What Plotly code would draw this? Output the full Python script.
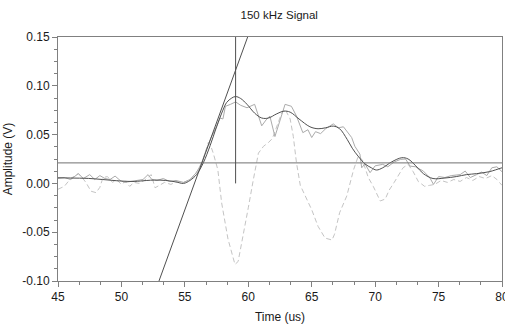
import plotly.graph_objects as go

# Raw signal (light dashed)
sig_t = [45.0, 45.5, 46.0, 46.6, 46.9, 47.2, 47.6, 48.0, 48.3, 48.55, 48.9, 49.3, 49.6, 50.0, 50.3,
         50.65, 51.0, 51.4, 51.8, 52.35, 52.65, 53.0, 53.4, 53.9, 54.4, 54.9, 55.5, 56.06, 56.45,
         56.7, 56.85, 57.05, 57.24, 57.6, 57.9, 58.4, 58.95, 59.2, 59.5, 59.74, 60.0, 60.4, 60.8,
         61.2, 61.6, 61.9, 62.24, 62.63, 62.9, 63.3, 63.55, 63.8, 64.1, 64.6, 65.0, 65.5, 66.05,
         66.6, 66.8, 67.2, 67.76, 68.3, 68.67, 69.0, 69.46, 69.85, 70.4, 70.8, 71.1, 71.5, 71.8,
         72.2, 72.6, 73.0, 73.4, 73.9, 74.3, 74.7, 75.2, 75.7, 76.2, 76.7, 77.2, 77.7, 78.2,
         78.7, 79.2, 79.6, 80.0]
sig_v = [-0.006, -0.003, 0.005, 0.010, 0.006, 0.001, -0.008, -0.0095, -0.004, 0.006, 0.007, 0.001,
         0.004, -0.001, 0.002, -0.003, 0.001, 0.000, 0.003, 0.009, -0.0045, -0.002, 0.001, -0.001,
         0.002, 0.001, 0.004, 0.014, 0.025, 0.035, 0.042, 0.038, 0.031, 0.014, -0.020, -0.057,
         -0.083, -0.080, -0.060, -0.045, -0.025, 0.004, 0.031, 0.038, 0.042, 0.046, 0.059, 0.072,
         0.076, 0.066, 0.048, 0.021, -0.002, -0.016, -0.027, -0.044, -0.056, -0.058, -0.052,
         -0.030, -0.013, 0.014, 0.028, 0.024, 0.006, -0.003, -0.018, -0.016, -0.007, 0.001,
         0.0075, 0.016, 0.0195, 0.012, 0.002, -0.003, -0.002, -0.001, 0.003, 0.001, 0.004,
         0.002, 0.006, 0.003, 0.007, 0.005, 0.008, 0.004, -0.002]

# Rectified / noisy envelope (light solid)
env_t = [45.0, 45.5, 46.0, 46.6, 47.0, 47.5, 47.9, 48.3, 48.7, 49.1, 49.5, 49.9, 50.25, 50.7, 51.2,
         51.7, 52.1, 52.4, 52.8, 53.3, 53.8, 54.3, 54.9, 55.4, 55.9, 56.3, 56.7, 57.1, 57.5, 57.77,
         58.0, 58.2, 58.6, 59.0, 59.4, 59.9, 60.5, 61.06, 61.4, 61.7, 62.1, 62.5, 62.9, 63.4, 63.8,
         64.3, 64.7, 65.0, 65.3, 65.7, 66.1, 66.7, 67.1, 67.5, 68.15, 68.4, 68.8, 68.94, 69.2,
         69.6, 70.0, 70.6, 71.0, 71.5, 72.0, 72.4, 72.75, 73.2, 73.8, 74.3, 74.6, 75.0, 75.5,
         76.0, 76.7, 77.1, 77.5, 78.0, 78.4, 78.8, 79.2, 79.6, 80.0]
env_v = [0.005, 0.006, 0.004, 0.010, 0.005, 0.009, 0.004, 0.008, 0.005, 0.004, 0.0075, 0.003,
         0.001, 0.002, 0.003, 0.004, 0.009, 0.004, 0.003, 0.005, 0.002, 0.003, 0.001, 0.004,
         0.011, 0.020, 0.035, 0.048, 0.058, 0.067, 0.066, 0.079, 0.081, 0.0835, 0.080, 0.0775,
         0.081, 0.059, 0.065, 0.069, 0.048, 0.065, 0.081, 0.079, 0.069, 0.052, 0.055, 0.047,
         0.053, 0.051, 0.056, 0.061, 0.057, 0.058, 0.047, 0.038, 0.030, 0.016, 0.020, 0.011,
         0.018, 0.0195, 0.017, 0.022, 0.0246, 0.025, 0.0177, 0.017, 0.0126, 0.006, -0.001,
         0.007, 0.006, 0.008, 0.009, 0.0126, 0.006, 0.009, 0.0116, 0.008, 0.016, 0.017, 0.012]

# Smoothed envelope (dark solid)
smooth_t = [45.0, 46.0, 47.4, 48.5, 50.0, 51.0, 52.0, 52.6, 53.5, 54.3, 54.9, 55.4, 55.93, 56.45,
            57.0, 57.5, 58.0, 58.3, 58.7, 59.0, 59.4, 59.9, 60.5, 61.06, 61.6, 62.2, 62.8, 63.3,
            64.0, 64.86, 65.5, 66.1, 66.7, 67.2, 67.8, 68.2, 68.65, 69.2, 69.7, 70.1, 70.6, 71.3,
            72.1, 72.6, 73.2, 73.8, 74.56, 75.5, 76.4, 77.2, 78.0, 79.0, 79.85, 80.0]
smooth_v = [0.0058, 0.0055, 0.0051, 0.004, 0.0024, 0.002, 0.003, 0.0034, 0.003, 0.0015, 0.0,
            0.003, 0.0092, 0.021, 0.039, 0.058, 0.075, 0.083, 0.0875, 0.089, 0.087, 0.081,
            0.072, 0.067, 0.067, 0.071, 0.074, 0.073, 0.066, 0.058, 0.056, 0.057, 0.0587,
            0.056, 0.045, 0.036, 0.028, 0.020, 0.016, 0.0137, 0.016, 0.022, 0.0263, 0.025,
            0.018, 0.010, 0.005, 0.0055, 0.007, 0.009, 0.010, 0.012, 0.0154, 0.016]

# Threshold, arrival marker and tangent line
thr_t = [45.0, 80.0]
thr_v = [0.021, 0.021]
arr_t = [59.0, 59.0]
arr_v = [0.0, 0.15]
tan_t = [52.96, 59.95]
tan_v = [-0.10, 0.15]

ytick_vals = [-0.10, -0.05, 0.00, 0.05, 0.10, 0.15]
ytick_text = ["-0.10", "-0.05", "0.00", "0.05", "0.10", "0.15"]
xtick_vals = [45, 50, 55, 60, 65, 70, 75, 80]

dark = "#505050"
fig = go.Figure()
fig.add_trace(go.Scatter(x=sig_t, y=sig_v, mode="lines",
                         line=dict(color="#c4c4c4", width=1, dash="5px,3px")))
fig.add_trace(go.Scatter(x=env_t, y=env_v, mode="lines",
                         line=dict(color="#ababab", width=1)))
fig.add_trace(go.Scatter(x=smooth_t, y=smooth_v, mode="lines", line_shape="spline",
                         line=dict(color=dark, width=1)))
fig.add_trace(go.Scatter(x=thr_t, y=thr_v, mode="lines", line=dict(color="#707070", width=1)))
fig.add_trace(go.Scatter(x=arr_t, y=arr_v, mode="lines", line=dict(color=dark, width=1)))
fig.add_trace(go.Scatter(x=tan_t, y=tan_v, mode="lines", line=dict(color=dark, width=1)))

font = "Liberation Sans, Arial, sans-serif"
fig.update_layout(
    width=505, height=324,
    margin=dict(l=58, r=3, t=37, b=43),
    paper_bgcolor="white", plot_bgcolor="white",
    showlegend=False,
    font=dict(family=font, size=12, color="#1a1a1a"),
    title=dict(text="150 kHz Signal", x=0.553, xanchor="center", y=0.955, yanchor="middle",
               font=dict(size=11.5, family=font, color="#1a1a1a")),
    xaxis=dict(range=[45, 80], tickvals=xtick_vals, showgrid=False, zeroline=False,
               showline=True, linecolor="#808080", linewidth=1, mirror=True,
               ticks="outside", ticklen=5, tickcolor="#808080", ticklabeloverflow="allow",
               minor=dict(dtick=5/3, tick0=45, ticks="outside", ticklen=3, tickcolor="#808080"),
               title=dict(text="Time (us)", standoff=9, font=dict(size=12)),
               tickfont=dict(size=12), automargin=False),
    yaxis=dict(range=[-0.10, 0.15], tickvals=ytick_vals, ticktext=ytick_text,
               showgrid=False, zeroline=False,
               showline=True, linecolor="#808080", linewidth=1, mirror=True,
               ticks="outside", ticklen=5, tickcolor="#808080", ticklabeloverflow="allow",
               minor=dict(dtick=0.0125, tick0=-0.10, ticks="outside", ticklen=3, tickcolor="#808080"),
               title=dict(text="Amplitude (V)", standoff=7, font=dict(size=12)),
               tickfont=dict(size=12), automargin=False),
)
fig.write_html("out.html", config={"displayModeBar": False},
               post_script="document.body.style.margin='0';document.body.style.overflow='hidden';")
